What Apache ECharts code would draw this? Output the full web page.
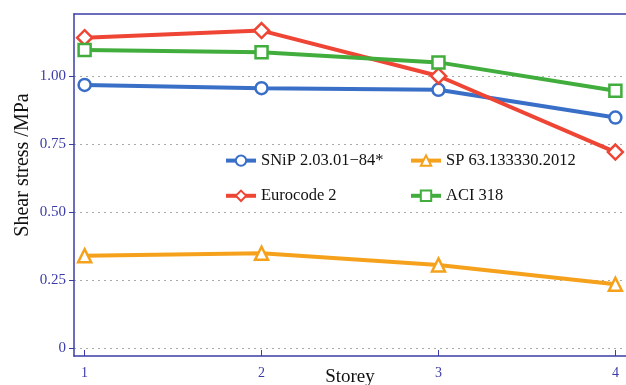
<!DOCTYPE html>
<html lang="en">
<head>
    <title>Shear stress by storey</title>
    <script src="https://cdn.jsdelivr.net/npm/echarts@6.0.0/dist/echarts.min.js"></script>
    <style>
        html, body { margin: 0; padding: 0; background: #fff; }
        #chart { width: 626px; height: 385px; }
    </style>
</head>
<body>
    <div id="chart"></div>
    <script>
        // Data
        const storeys = [1, 2, 3, 4];
        const yTicks = [0, 0.25, 0.5, 0.75, 1.0];
        const snip = [0.967, 0.955, 0.949, 0.847];
        const eurocode = [1.141, 1.167, 1.0, 0.72];
        const sp = [0.339, 0.348, 0.305, 0.234];
        const aci = [1.096, 1.087, 1.05, 0.946];

        const axisColor = '#3c3ca8';
        const font = 'Liberation Serif';

        function pairs(values) {
            return values.map((v, i) => [storeys[i], v]);
        }

        function line(name, values, color, symbol, size) {
            return {
                name: name,
                type: 'line',
                data: pairs(values),
                symbol: symbol,
                symbolSize: size,
                showSymbol: true,
                lineStyle: { color: color, width: 4 },
                itemStyle: { color: '#fff', borderColor: color, borderWidth: 2.5 },
                z: 3
            };
        }

        const legendBase = {
            orient: 'vertical',
            top: 143,
            itemWidth: 30, itemHeight: 13, itemGap: 10,
            lineStyle: { width: 4 },
            textStyle: { fontFamily: font, fontSize: 16.5, color: '#111' }
        };

        const chart = echarts.init(document.getElementById('chart'));

        chart.setOption({
            animation: false,
            textStyle: { fontFamily: font },
            grid: { left: 74, right: 0, top: 14, bottom: 29, outerBoundsMode: 'none' },
            legend: [
                Object.assign({}, legendBase, { left: 219, data: ['SNiP 2.03.01\u221284*', 'Eurocode 2'] }),
                Object.assign({}, legendBase, { left: 404, data: ['SP 63.133330.2012', 'ACI 318'] })
            ],
            xAxis: [
                {
                    type: 'value',
                    min: 0.94, max: 4.06,
                    name: 'Storey',
                    nameLocation: 'middle',
                    nameGap: 7,
                    nameMoveOverlap: false,
                    nameTextStyle: { fontFamily: font, fontSize: 19, color: '#111' },
                    axisLine: { onZero: false, lineStyle: { color: axisColor, width: 1.5 } },
                    axisTick: { inside: true, length: 6, customValues: storeys, lineStyle: { color: axisColor } },
                    axisLabel: { customValues: storeys, color: axisColor, fontSize: 14, margin: 7, fontFamily: font },
                    splitLine: { show: false }
                },
                {
                    type: 'value',
                    position: 'top',
                    min: 0.94, max: 4.06,
                    axisLine: { onZero: false, lineStyle: { color: axisColor, width: 1.5 } },
                    axisTick: { show: false },
                    axisLabel: { show: false },
                    splitLine: { show: false }
                }
            ],
            yAxis: {
                type: 'value',
                min: -0.03, max: 1.228,
                name: 'Shear stress /MPa',
                nameLocation: 'middle',
                nameGap: 36,
                nameMoveOverlap: false,
                nameTextStyle: { fontFamily: font, fontSize: 20, color: '#111', padding: [0, 0, 0, 40] },
                axisLine: { show: true, onZero: false, lineStyle: { color: axisColor, width: 1.5 } },
                axisTick: { show: true, length: 5, customValues: yTicks, lineStyle: { color: axisColor } },
                axisLabel: {
                    customValues: yTicks, color: axisColor, fontSize: 15, margin: 8, fontFamily: font,
                    formatter: v => v === 0 ? '0' : v.toFixed(2)
                },
                splitLine: { show: true, lineStyle: { color: '#aaa', type: [2, 4], width: 1 } }
            },
            series: [
                line('SNiP 2.03.01\u221284*', snip, '#3a6fc8', 'circle', 12),
                line('Eurocode 2', eurocode, '#ee4535', 'diamond', 15),
                line('SP 63.133330.2012', sp, '#f5a11c', 'triangle', 13),
                line('ACI 318', aci, '#41ad3c', 'rect', 12)
            ]
        });
    </script>
</body>
</html>
